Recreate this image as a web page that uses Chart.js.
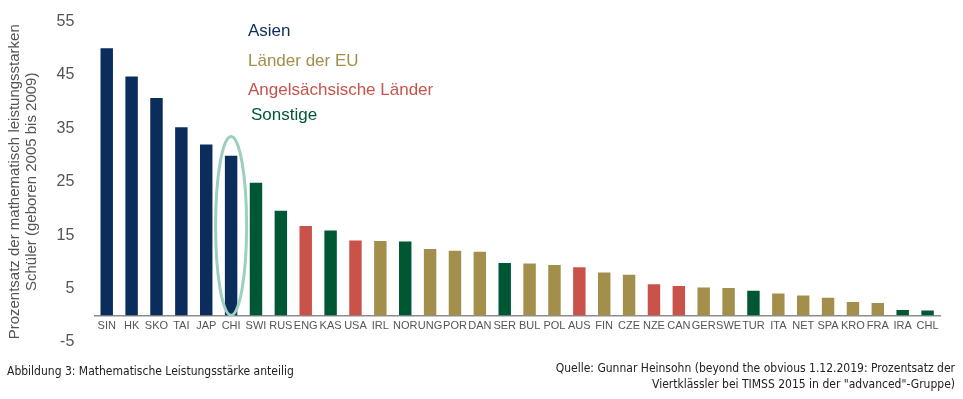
<!DOCTYPE html>
<html>
<head>
<meta charset="utf-8">
<script src="https://cdn.jsdelivr.net/npm/chart.js@4/dist/chart.umd.min.js"></script>
<style>
  html, body { margin: 0; padding: 0; background: #fff; }
  #wrap { position: relative; width: 963px; height: 399px; }
  canvas { position: absolute; left: 0; top: 0; }
  .cap { position: absolute; font-family: "Liberation Sans Narrow", "DejaVu Sans Condensed", "Liberation Sans", sans-serif; font-size: 12px; color: #222; line-height: 16px; white-space: nowrap; }
</style>
</head>
<body>
<div id="wrap">
  <canvas id="c" width="963" height="399"></canvas>
  <div class="cap" style="left:7px; top:363px;">Abbildung 3: Mathematische Leistungsstärke anteilig</div>
  <div class="cap" style="right:8px; top:360px; text-align:right;">Quelle: Gunnar Heinsohn (beyond the obvious 1.12.2019: Prozentsatz der<br>Viertklässler bei TIMSS 2015 in der "advanced"-Gruppe)</div>
</div>
<script>
const categories = ["SIN","HK","SKO","TAI","JAP","CHI","SWI","RUS","ENG","KAS","USA","IRL","NOR","UNG","POR","DAN","SER","BUL","POL","AUS","FIN","CZE","NZE","CAN","GER","SWE","TUR","ITA","NET","SPA","KRO","FRA","IRA","CHL"];
const values = [50.0,44.7,40.7,35.2,32.0,29.9,24.8,19.6,16.7,15.9,14.0,13.9,13.8,12.4,12.1,11.9,9.8,9.7,9.4,9.0,8.0,7.6,5.8,5.5,5.2,5.1,4.6,4.1,3.7,3.3,2.5,2.3,1.0,0.9];
const groups = ["A","A","A","A","A","A","S","S","E","S","E","U","S","U","U","U","S","U","U","E","U","U","E","E","U","U","S","U","U","U","U","U","S","S"];
const groupKeys = ["A","U","E","S"];
const groupNames = ["Asien","Länder der EU","Angelsächsische Länder","Sonstige"];
const groupColors = ["#0b2d5b","#a38e4c","#c9524a","#005734"];
const yTicks = [-5,5,15,25,35,45,55];
const highlightIndex = 5;
const highlightTop = 33.5;

const colorOf = g => groupColors[groupKeys.indexOf(g)];

const overlay = {
  id: 'overlay',
  afterDraw(chart) {
    const ctx = chart.ctx;
    const xs = chart.scales.x, ys = chart.scales.y;
    ctx.save();
    ctx.font = '17px "Liberation Sans", Arial, sans-serif';
    ctx.textBaseline = 'middle';
    ctx.textAlign = 'left';
    const lx = [248, 248, 248, 251];
    const ly = [31, 61, 90, 115];
    groupNames.forEach((n, i) => {
      ctx.fillStyle = groupColors[i];
      ctx.fillText(n, lx[i], ly[i]);
    });
    const cx = xs.getPixelForValue(highlightIndex);
    const yTop = ys.getPixelForValue(highlightTop);
    const yBot = ys.getPixelForValue(0);
    ctx.beginPath();
    ctx.ellipse(cx, (yTop + yBot) / 2, 15.5, (yBot - yTop) / 2, 0, 0, Math.PI * 2);
    ctx.strokeStyle = '#9ccfbd';
    ctx.lineWidth = 3;
    ctx.stroke();
    ctx.restore();
  }
};

new Chart(document.getElementById('c'), {
  type: 'bar',
  data: {
    labels: categories,
    datasets: [{
      data: values,
      backgroundColor: groups.map(colorOf),
      barPercentage: 0.5,
      categoryPercentage: 1.0
    }]
  },
  options: {
    responsive: false,
    animation: false,
    devicePixelRatio: 1,
    layout: { padding: { top: 17, right: 23, bottom: 57, left: 4 } },
    plugins: { legend: { display: false }, tooltip: { enabled: false } },
    scales: {
      x: {
        position: { y: 0 },
        grid: { display: false, drawTicks: false, tickLength: 0 },
        border: { display: true, color: '#8c8c8c', width: 1.5 },
        ticks: {
          color: '#555',
          font: { family: '"Liberation Sans", Arial, sans-serif', size: 11 },
          autoSkip: false, maxRotation: 0, padding: 4
        }
      },
      y: {
        min: -5, max: 55,
        afterBuildTicks: s => { s.ticks = yTicks.map(v => ({ value: v })); },
        grid: { display: false },
        border: { display: false },
        ticks: {
          color: '#555',
          padding: 12,
          font: { family: '"Liberation Sans", Arial, sans-serif', size: 16 }
        },
        title: {
          display: true,
          text: ['Prozentsatz der mathematisch leistungsstarken', 'Schüler (geboren 2005 bis 2009)'],
          color: '#555',
          font: { family: '"Liberation Sans", Arial, sans-serif', size: 15, lineHeight: 1.15 },
          padding: { top: 2, bottom: 4 }
        }
      }
    }
  },
  plugins: [overlay]
});
</script>
</body>
</html>
